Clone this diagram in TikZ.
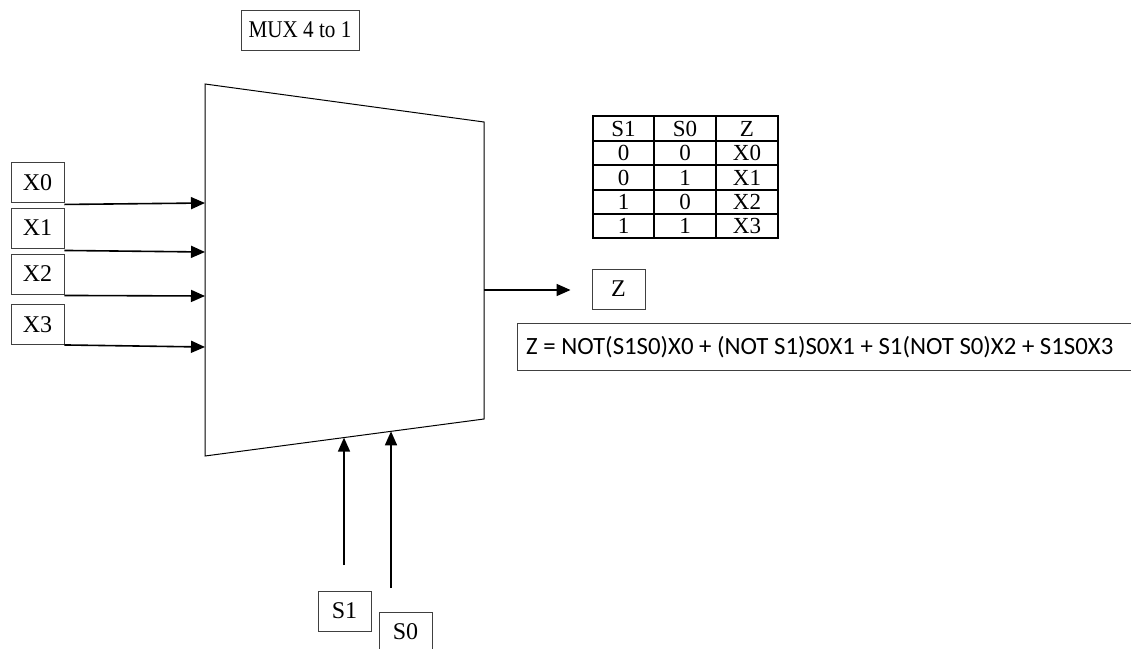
\documentclass[tikz,border=0pt]{standalone}
\usepackage{fontspec}
\usepackage{graphicx}
\setmainfont{Liberation Serif}
\newfontfamily\calib{Carlito}
\usetikzlibrary{arrows.meta}
\begin{document}
\begin{tikzpicture}[x=1pt,y=-1pt,
  lbl/.style={draw=black!75,line width=0.9pt,minimum width=53pt,minimum height=40pt,inner sep=0pt,font=\fontsize{24}{26}\selectfont},
  arr/.style={line width=1.6pt,-{Triangle[length=14pt,width=12pt]}},
  tbl/.style={line width=2pt},
  cell/.style={font=\fontsize{23}{23}\selectfont,inner sep=0pt}]
\useasboundingbox (0,0) rectangle (1131,648);
\clip (0,0) rectangle (1131,648);
% title
\node[lbl,minimum width=118pt] (mux) at (300,30) {\scalebox{0.88}[1]{MUX 4 to 1}};
% trapezoid
\coordinate (tl) at (205,84);
\coordinate (tr) at (484,122);
\coordinate (br) at (484,419);
\coordinate (bl) at (205,456);
\draw[line width=1pt] (tl) -- (tr) -- (br) -- (bl) -- cycle;
% inputs
\node[lbl] (x0) at (37.5,182.5) {X0};
\node[lbl] (x1) at (37.5,228) {X1};
\node[lbl] (x2) at (37.5,274) {X2};
\node[lbl] (x3) at (37.5,324.5) {X3};
\coordinate (i0) at (205,203);
\coordinate (i1) at (205,252);
\coordinate (i2) at (205,296);
\coordinate (i3) at (205,347);
\draw[arr] ([yshift=-1.5pt]x0.south east) -- (i0);
\draw[arr] ([yshift=-2pt]x1.south east) -- (i1);
\draw[arr] ([yshift=-1pt]x2.south east) -- (i2);
\draw[arr] ([yshift=0pt]x3.south east) -- (i3);
% output
\node[lbl] (z) at (618.5,289) {Z};
\coordinate (o) at (484,290);
\draw[arr] (o) -- ([xshift=-21pt]z.west |- o);
% equation
\node[draw=black!75,line width=0.9pt,minimum width=630pt,minimum height=47pt,inner sep=0pt,anchor=west] (eq) at (517,346.5) {};
\node[anchor=west,inner sep=0pt,font=\calib\fontsize{24.8}{26}\selectfont] (eqt) at (526,347) {Z = NOT(S1S0)X0 + (NOT S1)S0X1 + S1(NOT S0)X2 + S1S0X3};
% selects
\node[lbl] (s1) at (344.5,611) {S1};
\node[lbl] (s0) at (405.5,632) {S0};
\coordinate (s1top) at (344,565);
\coordinate (s0top) at (391,588);
\coordinate (s1in) at (344,437.6);
\coordinate (s0in) at (391,431.3);
\draw[arr] (s1top) -- (s1in);
\draw[arr] (s0top) -- (s0in);
% truth table
\draw[tbl] (593,116) rectangle (778,238);
\foreach \yy in {141,165,190,214} \draw[tbl] (593,\yy) -- (778,\yy);
\foreach \xx in {654,716} \draw[tbl] (\xx,116) -- (\xx,238);
\foreach \r/\a/\b/\c [count=\i] in {128.5/S1/S0/Z,153/0/0/X0,177.5/0/1/X1,202/1/0/X2,226/1/1/X3}{
  \node[cell] (ta\i) at (623.5,\r) {\a};
  \node[cell] (tb\i) at (685,\r) {\b};
  \node[cell] (tc\i) at (747,\r) {\c};
}
\end{tikzpicture}
\end{document}
